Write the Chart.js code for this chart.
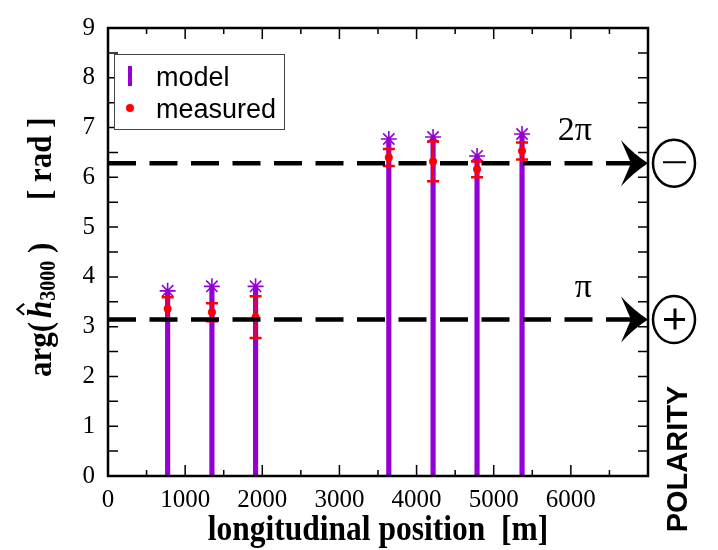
<!DOCTYPE html>
<html>
<head>
<meta charset="utf-8">
<script src="https://cdn.jsdelivr.net/npm/chart.js@4.4.0/dist/chart.umd.min.js"></script>
<style>
  html, body { margin: 0; padding: 0; background: #fff; }
  #wrap { width: 718px; height: 550px; }
</style>
</head>
<body>
<div id="wrap"><canvas id="polarity-chart" width="718" height="550"></canvas></div>
<script>
// longitudinal positions of the monitors [m]
var positions = [773, 1347, 1913, 3640, 4214, 4784, 5367];
// phase of h3000 [rad]
var modelPhase = [3.72, 3.81, 3.81, 6.77, 6.81, 6.43, 6.87];
var measuredPhase = [3.36, 3.29, 3.19, 6.40, 6.32, 6.16, 6.53];
var measuredError = [0.23, 0.18, 0.42, 0.17, 0.40, 0.16, 0.17];

var xTicks = [0, 1000, 2000, 3000, 4000, 5000, 6000, 7000];
var yTicks = [0, 1, 2, 3, 4, 5, 6, 7, 8, 9];

// reference phases and the polarity they stand for
var levels = [Math.PI, 2 * Math.PI];
var levelNames = ['\u03c0', '2\u03c0'];
var levelSigns = ['+', '-'];

var purple = '#9400d3';
var red = '#ff0000';
var serif = 'Liberation Serif';
var sans = 'Liberation Sans';

function points(ys) {
  return positions.map(function(x, i) { return { x: x, y: ys[i] }; });
}

var overlay = {
  id: 'overlay',
  afterDatasetsDraw: function(chart) {
    var c = chart.ctx, a = chart.chartArea;
    var xs = chart.scales.x, ys = chart.scales.y;
    var i, v;

    // error bars on the measured points
    c.save();
    c.strokeStyle = red;
    for (i = 0; i < positions.length; i++) {
      var px = xs.getPixelForValue(positions[i]);
      var top = ys.getPixelForValue(measuredPhase[i] + measuredError[i]);
      var bot = ys.getPixelForValue(measuredPhase[i] - measuredError[i]);
      c.lineWidth = 2;
      c.beginPath();
      c.moveTo(px, top); c.lineTo(px, bot);
      c.stroke();
      c.lineWidth = 2.5;
      c.beginPath();
      c.moveTo(px - 6, top); c.lineTo(px + 6, top);
      c.moveTo(px - 6, bot); c.lineTo(px + 6, bot);
      c.stroke();
    }
    c.restore();

    // dashed pi / 2pi lines with arrows
    c.save();
    for (i = 0; i < levels.length; i++) {
      var py = ys.getPixelForValue(levels[i]);
      var tip = a.right;
      c.strokeStyle = '#000';
      c.lineWidth = 4.5;
      c.setLineDash([28, 13.5]);
      c.beginPath();
      c.moveTo(a.left, py); c.lineTo(tip - 14, py);
      c.stroke();
      c.setLineDash([]);
      c.fillStyle = '#000';
      c.beginPath();
      c.moveTo(tip, py);
      c.quadraticCurveTo(tip - 14, py - 9, tip - 27, py - 23);
      c.lineTo(tip - 17, py);
      c.lineTo(tip - 27, py + 23);
      c.quadraticCurveTo(tip - 14, py + 9, tip, py);
      c.fill();

      c.font = '34px ' + serif;
      c.textAlign = 'right';
      c.textBaseline = 'alphabetic';
      c.fillText(levelNames[i], tip - 56, py - 23);

      // circled polarity sign
      var cx = tip + 26, cy = py;
      c.lineWidth = 2.5;
      c.beginPath();
      c.ellipse(cx, cy, 21, 23.5, 0, 0, Math.PI * 2);
      c.stroke();
      c.beginPath();
      if (levelSigns[i] === '+') {
        c.lineWidth = 3;
        c.moveTo(cx - 10, cy); c.lineTo(cx + 11, cy);
        c.moveTo(cx + 1, cy - 11); c.lineTo(cx + 1, cy + 10);
      } else {
        c.lineWidth = 2;
        c.moveTo(cx - 11, cy - 1); c.lineTo(cx + 12, cy - 1);
      }
      c.stroke();
    }
    c.restore();

    // frame with inward ticks on all four sides
    c.save();
    c.strokeStyle = '#000';
    c.lineWidth = 1.5;
    c.beginPath();
    for (v = ys.min + 0.5; v < ys.max; v += 0.5) {
      var ty = ys.getPixelForValue(v);
      c.moveTo(a.left, ty); c.lineTo(a.left + 10, ty);
      c.moveTo(a.right, ty); c.lineTo(a.right - 10, ty);
    }
    for (v = xs.min + 500; v < xs.max; v += 500) {
      var tx = xs.getPixelForValue(v);
      var len = v % 1000 === 0 ? 11 : 6;
      c.moveTo(tx, a.bottom); c.lineTo(tx, a.bottom - len);
      c.moveTo(tx, a.top); c.lineTo(tx, a.top + len);
    }
    c.stroke();
    c.lineWidth = 2.5;
    c.strokeRect(a.left, a.top, a.right - a.left, a.bottom - a.top);
    c.restore();

    // legend box
    var ds = chart.data.datasets;
    c.save();
    c.fillStyle = '#fff';
    c.fillRect(a.left + 6, a.top + 26, 170, 75);
    c.strokeStyle = '#444';
    c.lineWidth = 1;
    c.strokeRect(a.left + 6.5, a.top + 26.5, 170, 75);
    c.fillStyle = purple;
    c.fillRect(a.left + 20, a.top + 38, 4, 20);
    c.fillStyle = red;
    c.beginPath();
    c.arc(a.left + 22, a.top + 80, 4, 0, Math.PI * 2);
    c.fill();
    c.fillStyle = '#000';
    c.font = '27px ' + sans;
    c.textBaseline = 'alphabetic';
    c.fillText(ds[0].label, a.left + 48, a.top + 58);
    c.fillText(ds[2].label, a.left + 48, a.top + 90);
    c.restore();
  },
  afterDraw: function(chart) {
    var c = chart.ctx, a = chart.chartArea;
    c.save();
    c.fillStyle = '#000';

    // x title
    c.font = 'bold 31.5px ' + serif;
    c.textAlign = 'center';
    c.textBaseline = 'alphabetic';
    c.save();
    c.translate((a.left + a.right) / 2, 540);
    c.scale(1, 1.15);
    c.fillText('longitudinal position  [m]', 0, 0);
    c.restore();

    // y title: arg( h^_3000 )   [ rad ]
    c.save();
    c.translate(51, 377);
    c.rotate(-Math.PI / 2);
    c.scale(1, 1.12);
    c.textAlign = 'left';
    var u = 0;
    c.font = 'bold 31px ' + serif;
    c.fillText('arg(', u, 0);
    u += c.measureText('arg(').width + 4;
    c.font = 'italic bold 31px ' + serif;
    c.fillText('h', u, 0);
    var hw = c.measureText('h').width;
    var hx = u + hw * 0.5;
    c.lineWidth = 2;
    c.beginPath();
    c.moveTo(hx - 5.5, -24); c.lineTo(hx, -30); c.lineTo(hx + 5.5, -24);
    c.stroke();
    u += hw;
    c.font = 'bold 20px ' + serif;
    c.fillText('3000', u, 4);
    u += c.measureText('3000').width;
    c.font = 'bold 31px ' + serif;
    c.fillText(' )', u, 0);
    c.fillText('[ rad ]', 177, 0);
    c.restore();

    // polarity caption
    c.save();
    c.translate(a.right + 39, 459);
    c.rotate(-Math.PI / 2);
    c.font = 'bold 29px ' + sans;
    c.textAlign = 'center';
    c.fillText('POLARITY', 0, 0);
    c.restore();

    c.restore();
  }
};

var ctx = document.getElementById('polarity-chart');
var chart = new Chart(ctx, {
  type: 'bar',
  data: {
    datasets: [
      {
        type: 'bar',
        label: 'model',
        data: points(modelPhase),
        backgroundColor: purple,
        barThickness: 4.5,
        order: 3
      },
      {
        type: 'scatter',
        label: 'model',
        data: points(modelPhase),
        pointStyle: 'star',
        radius: 8,
        borderColor: purple,
        backgroundColor: purple,
        borderWidth: 1.6,
        order: 2
      },
      {
        type: 'scatter',
        label: 'measured',
        data: points(measuredPhase),
        pointStyle: 'circle',
        radius: 4,
        backgroundColor: red,
        borderWidth: 0,
        order: 1
      }
    ]
  },
  options: {
    responsive: false,
    animation: false,
    layout: { padding: { left: 0, right: 70, top: 22, bottom: 0 } },
    plugins: {
      legend: { display: false },
      tooltip: { enabled: false },
      title: { display: false }
    },
    scales: {
      x: {
        type: 'linear',
        min: 0,
        max: 7000,
        offset: false,
        afterBuildTicks: function(s) {
          s.ticks = xTicks.map(function(v) { return { value: v }; });
        },
        ticks: {
          color: '#000',
          font: { family: serif, size: 25 },
          padding: 9,
          maxRotation: 0,
          autoSkip: false,
          callback: function(v) { return v === 7000 ? '' : v; }
        },
        grid: { display: false, drawTicks: false },
        border: { display: false },
        afterFit: function(s) { s.height = 74; }
      },
      y: {
        min: 0,
        max: 9,
        afterBuildTicks: function(s) {
          s.ticks = yTicks.map(function(v) { return { value: v }; });
        },
        ticks: {
          color: '#000',
          font: { family: serif, size: 25 },
          padding: 13
        },
        grid: { display: false, drawTicks: false },
        border: { display: false },
        afterFit: function(s) { s.width = 108; }
      }
    }
  },
  plugins: [overlay]
});
</script>
</body>
</html>
